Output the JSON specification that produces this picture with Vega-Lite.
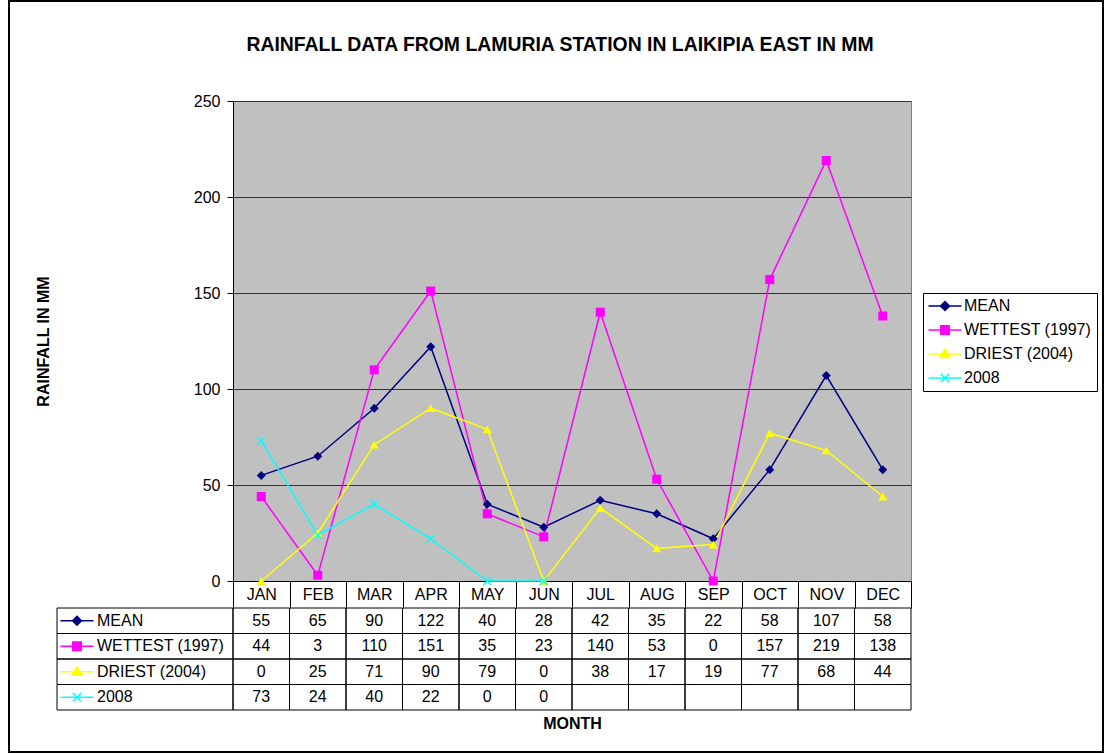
{
  "$schema": "https://vega.github.io/schema/vega-lite/v6.json",
  "width": 678,
  "height": 480,
  "autosize": {"type": "none"},
  "padding": {"left": 233, "top": 101, "right": 194, "bottom": 173},
  "background": "white",
  "title": {
    "text": "RAINFALL DATA FROM LAMURIA STATION IN LAIKIPIA EAST IN MM",
    "font": "Liberation Sans",
    "fontSize": 19.4,
    "fontWeight": "bold",
    "color": "black",
    "anchor": "middle",
    "frame": "group",
    "baseline": "middle",
    "dx": -12,
    "offset": -64
  },
  "config": {
    "font": "Liberation Sans",
    "view": {"fill": "#C0C0C0", "stroke": "#808080", "strokeWidth": 1},
    "axis": {"labelFont": "Liberation Sans", "titleFont": "Liberation Sans", "labelColor": "black", "titleColor": "black"}
  },
  "data": {
    "values": [
      {"month": "JAN", "series": "MEAN", "value": 55},
      {"month": "FEB", "series": "MEAN", "value": 65},
      {"month": "MAR", "series": "MEAN", "value": 90},
      {"month": "APR", "series": "MEAN", "value": 122},
      {"month": "MAY", "series": "MEAN", "value": 40},
      {"month": "JUN", "series": "MEAN", "value": 28},
      {"month": "JUL", "series": "MEAN", "value": 42},
      {"month": "AUG", "series": "MEAN", "value": 35},
      {"month": "SEP", "series": "MEAN", "value": 22},
      {"month": "OCT", "series": "MEAN", "value": 58},
      {"month": "NOV", "series": "MEAN", "value": 107},
      {"month": "DEC", "series": "MEAN", "value": 58},
      {"month": "JAN", "series": "WETTEST (1997)", "value": 44},
      {"month": "FEB", "series": "WETTEST (1997)", "value": 3},
      {"month": "MAR", "series": "WETTEST (1997)", "value": 110},
      {"month": "APR", "series": "WETTEST (1997)", "value": 151},
      {"month": "MAY", "series": "WETTEST (1997)", "value": 35},
      {"month": "JUN", "series": "WETTEST (1997)", "value": 23},
      {"month": "JUL", "series": "WETTEST (1997)", "value": 140},
      {"month": "AUG", "series": "WETTEST (1997)", "value": 53},
      {"month": "SEP", "series": "WETTEST (1997)", "value": 0},
      {"month": "OCT", "series": "WETTEST (1997)", "value": 157},
      {"month": "NOV", "series": "WETTEST (1997)", "value": 219},
      {"month": "DEC", "series": "WETTEST (1997)", "value": 138},
      {"month": "JAN", "series": "DRIEST (2004)", "value": 0},
      {"month": "FEB", "series": "DRIEST (2004)", "value": 25},
      {"month": "MAR", "series": "DRIEST (2004)", "value": 71},
      {"month": "APR", "series": "DRIEST (2004)", "value": 90},
      {"month": "MAY", "series": "DRIEST (2004)", "value": 79},
      {"month": "JUN", "series": "DRIEST (2004)", "value": 0},
      {"month": "JUL", "series": "DRIEST (2004)", "value": 38},
      {"month": "AUG", "series": "DRIEST (2004)", "value": 17},
      {"month": "SEP", "series": "DRIEST (2004)", "value": 19},
      {"month": "OCT", "series": "DRIEST (2004)", "value": 77},
      {"month": "NOV", "series": "DRIEST (2004)", "value": 68},
      {"month": "DEC", "series": "DRIEST (2004)", "value": 44},
      {"month": "JAN", "series": "2008", "value": 73},
      {"month": "FEB", "series": "2008", "value": 24},
      {"month": "MAR", "series": "2008", "value": 40},
      {"month": "APR", "series": "2008", "value": 22},
      {"month": "MAY", "series": "2008", "value": 0},
      {"month": "JUN", "series": "2008", "value": 0},
      {"month": "JUL", "series": "2008", "value": null},
      {"month": "AUG", "series": "2008", "value": null},
      {"month": "SEP", "series": "2008", "value": null},
      {"month": "OCT", "series": "2008", "value": null},
      {"month": "NOV", "series": "2008", "value": null},
      {"month": "DEC", "series": "2008", "value": null}
    ]
  },
  "resolve": {"scale": {"x": "independent", "y": "independent", "shape": "independent"}},
  "layer": [
    {
      "transform": [{"filter": "isValid(datum.value)"}],
      "encoding": {
        "x": {
          "field": "month", "type": "ordinal",
          "sort": ["JAN","FEB","MAR","APR","MAY","JUN","JUL","AUG","SEP","OCT","NOV","DEC"],
          "scale": {"type": "band", "domain": ["JAN","FEB","MAR","APR","MAY","JUN","JUL","AUG","SEP","OCT","NOV","DEC"], "paddingInner": 0, "paddingOuter": 0},
          "axis": {
            "title": "MONTH", "titleFontSize": 16, "titleFontWeight": "bold", "titlePadding": 107,
            "labelAngle": 0, "labelFontSize": 16, "labelBaseline": "middle", "labelPadding": -13.5,
            "tickBand": "extent", "tickSize": 27, "tickColor": "black", "domainColor": "black", "grid": false
          }
        },
        "y": {
          "field": "value", "type": "quantitative",
          "scale": {"domain": [0, 250], "nice": false, "zero": true},
          "axis": {
            "title": "RAINFALL IN MM", "titleFontSize": 16, "titleFontWeight": "bold", "titlePadding": 142,
            "values": [0, 50, 100, 150, 200, 250], "labelFontSize": 16, "labelPadding": 7, "labelFlush": false,
            "tickSize": 6, "tickColor": "black", "domainColor": "black",
            "grid": true, "gridColor": "#333333", "gridWidth": 1
          }
        }
      },
      "layer": [
        {
          "mark": {"type": "line", "strokeWidth": 1.5},
          "encoding": {
            "color": {
              "field": "series", "type": "nominal",
              "scale": {"domain": ["MEAN", "WETTEST (1997)", "DRIEST (2004)", "2008"], "range": ["#000080", "#FF00FF", "#FFFF00", "#00FFFF"]},
              "legend": {
                "title": null, "orient": "none", "legendX": 690, "legendY": 192,
                "padding": 5, "strokeColor": "black", "fillColor": "white", "cornerRadius": 0,
                "labelFont": "Liberation Sans", "labelFontSize": 16, "labelColor": "black",
                "symbolSize": 36, "symbolOffset": 9, "labelOffset": 11, "rowPadding": 8, "symbolStrokeWidth": 1.5,
                "encode": {
                  "symbols": {
                    "update": {
                      "shape": {"signal": "datum.value === 'MEAN' ? 'M-5.5,0H5.5M0,-1.5L1.5,0L0,1.5L-1.5,0Z' : datum.value === 'WETTEST (1997)' ? 'M-5.5,0H5.5M-1.4,-1.4H1.4V1.4H-1.4Z' : datum.value === 'DRIEST (2004)' ? 'M-5.5,0H5.5M0,-1.6L1.7,1.2L-1.7,1.2Z' : 'M-5.5,0H5.5M-1.4,-1.4L1.4,1.4M-1.4,1.4L1.4,-1.4'"},
                      "fill": {"signal": "datum.value === 'MEAN' ? '#000080' : datum.value === 'WETTEST (1997)' ? '#FF00FF' : datum.value === 'DRIEST (2004)' ? '#FFFF00' : '#00FFFF'"},
                      "stroke": {"signal": "datum.value === 'MEAN' ? '#000080' : datum.value === 'WETTEST (1997)' ? '#FF00FF' : datum.value === 'DRIEST (2004)' ? '#FFFF00' : '#00FFFF'"},
                      "strokeWidth": {"value": 1.5},
                      "opacity": {"value": 1}
                    }
                  }
                }
              }
            }
          }
        },
        {
          "transform": [{"filter": "datum.series !== '2008'"}],
          "mark": {"type": "point", "filled": true, "size": 81, "opacity": 1},
          "encoding": {
            "color": {"field": "series", "type": "nominal", "legend": null},
            "shape": {
              "field": "series", "type": "nominal",
              "scale": {"domain": ["MEAN", "WETTEST (1997)", "DRIEST (2004)", "2008"], "range": ["diamond", "square", "triangle-up", "cross"]},
              "legend": null
            }
          }
        },
        {
          "transform": [{"filter": "datum.series === '2008'"}],
          "mark": {"type": "point", "filled": false, "size": 64, "opacity": 1, "strokeWidth": 1.5, "shape": "M-1,-1L1,1M-1,1L1,-1"},
          "encoding": {
            "color": {"field": "series", "type": "nominal", "legend": null}
          }
        }
      ]
    },
    {
      "encoding": {
        "x": {
          "field": "month", "type": "ordinal",
          "scale": {"type": "band", "domain": ["JAN","FEB","MAR","APR","MAY","JUN","JUL","AUG","SEP","OCT","NOV","DEC"], "paddingInner": 0, "paddingOuter": 0},
          "axis": null
        },
        "y": {
          "field": "series", "type": "nominal",
          "scale": {"type": "band", "domain": ["MEAN", "WETTEST (1997)", "DRIEST (2004)", "2008"], "range": [507, 609], "paddingInner": 0, "paddingOuter": 0},
          "axis": null
        }
      },
      "layer": [
        {"mark": {"type": "rect", "fill": "transparent", "stroke": "black", "strokeWidth": 1}},
        {
          "transform": [{"filter": "isValid(datum.value)"}],
          "mark": {"type": "text", "font": "Liberation Sans", "fontSize": 16, "color": "black", "baseline": "middle", "align": "center"},
          "encoding": {"text": {"field": "value", "type": "quantitative"}}
        }
      ]
    },
    {
      "transform": [{"filter": "datum.month === 'JAN'"}],
      "encoding": {
        "x": {
          "datum": "lbl", "type": "nominal",
          "scale": {"type": "band", "domain": ["lbl"], "range": [-176, 0], "paddingInner": 0, "paddingOuter": 0},
          "axis": null
        },
        "y": {
          "field": "series", "type": "nominal",
          "scale": {"type": "band", "domain": ["MEAN", "WETTEST (1997)", "DRIEST (2004)", "2008"], "range": [507, 609], "paddingInner": 0, "paddingOuter": 0},
          "axis": null
        }
      },
      "layer": [
        {"mark": {"type": "rect", "fill": "transparent", "stroke": "black", "strokeWidth": 1}},
        {
          "mark": {"type": "point", "filled": true, "size": 36, "opacity": 1, "strokeWidth": 1.5, "xOffset": -68},
          "encoding": {
            "shape": {
              "field": "series", "type": "nominal",
              "scale": {"domain": ["MEAN", "WETTEST (1997)", "DRIEST (2004)", "2008"], "range": ["M-5.5,0H5.5M0,-1.5L1.5,0L0,1.5L-1.5,0Z", "M-5.5,0H5.5M-1.4,-1.4H1.4V1.4H-1.4Z", "M-5.5,0H5.5M0,-1.6L1.7,1.2L-1.7,1.2Z", "M-5.5,0H5.5M-1.4,-1.4L1.4,1.4M-1.4,1.4L1.4,-1.4"]},
              "legend": null
            },
            "color": {"field": "series", "type": "nominal", "legend": null},
            "stroke": {
              "field": "series", "type": "nominal",
              "scale": {"domain": ["MEAN", "WETTEST (1997)", "DRIEST (2004)", "2008"], "range": ["#000080", "#FF00FF", "#FFFF00", "#00FFFF"]},
              "legend": null
            }
          }
        },
        {
          "mark": {"type": "text", "font": "Liberation Sans", "fontSize": 16, "color": "black", "align": "left", "baseline": "middle", "dx": -48},
          "encoding": {"text": {"field": "series", "type": "nominal"}}
        }
      ]
    },
    {
      "data": {"values": [{"frame": "chart area"}]},
      "mark": {"type": "rect", "fill": "transparent", "stroke": "black", "strokeWidth": 2},
      "encoding": {
        "x": {"datum": 0, "type": "quantitative", "scale": {"domain": [0, 1], "range": [-224, 870], "nice": false, "zero": false}, "axis": null},
        "x2": {"datum": 1},
        "y": {"datum": 0, "type": "quantitative", "scale": {"domain": [0, 1], "range": [-100, 651], "nice": false, "zero": false}, "axis": null},
        "y2": {"datum": 1}
      }
    }
  ]
}
